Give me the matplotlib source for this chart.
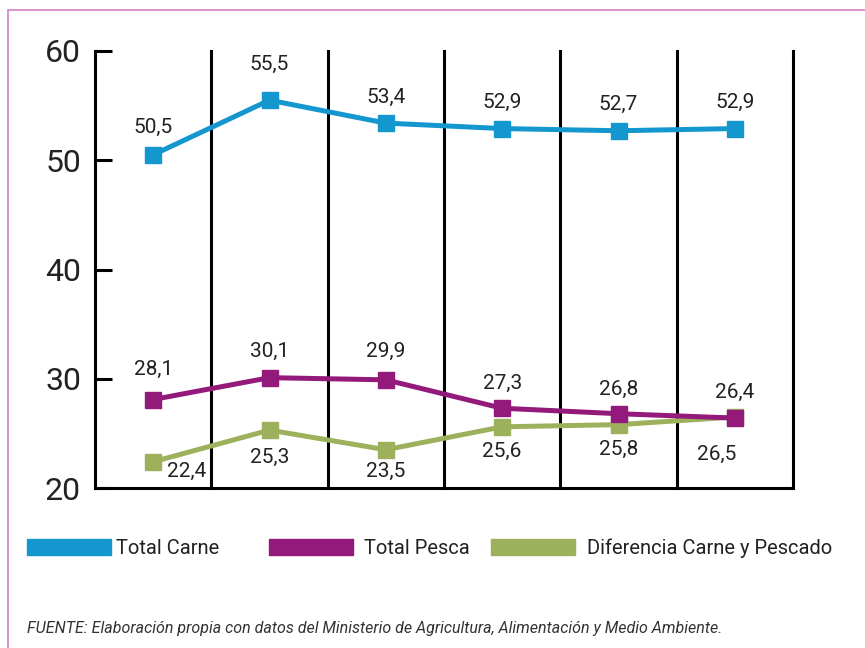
import numpy as np
import matplotlib.pyplot as plt
from matplotlib.patches import Rectangle

# data
years = ["1", "2", "3", "4", "5", "6"]
carne = [50.5, 55.5, 53.4, 52.9, 52.7, 52.9]
pesca = [28.1, 30.1, 29.9, 27.3, 26.8, 26.4]
diferencia = [22.4, 25.3, 23.5, 25.6, 25.8, 26.5]
y_ticks = [20, 30, 40, 50, 60]
series_names = ["Total Carne", "Total Pesca", "Diferencia Carne y Pescado"]
fuente = ("FUENTE: Elaboración propia con datos del Ministerio de Agricultura, "
          "Alimentación y Medio Ambiente.")

c_carne = "#1496cf"
c_pesca = "#931a7b"
c_dif = "#9db15d"

plt.rcParams['font.family'] = ['Roboto', 'DejaVu Sans']

W, H = 865, 648
fig = plt.figure(figsize=(W / 100, H / 100), dpi=100)
ax = fig.add_axes([95 / W, 1 - 488 / H, 698 / W, 437 / H])

x = np.arange(len(years))

ax.plot(x, carne, color=c_carne, lw=3.6, marker='s', ms=12.2, zorder=3)
ax.plot(x, pesca, color=c_pesca, lw=3.6, marker='s', ms=12.2, zorder=4)
ax.plot(x, diferencia, color=c_dif, lw=3.6, marker='s', ms=12.2, zorder=3)

# value labels (offsets in pixels)
carne_off = [(0, 27), (0, 36), (0, 26), (0, 26), (0, 26), (0, 26)]
pesca_off = [(0, 30), (0, 26), (0, 28), (0, 25), (0, 24), (0, 26)]
dif_off = [(33, -10), (0, -27), (0, -22), (0, -25), (0, -25), (-18, -37)]
for vals, offs in [(carne, carne_off), (pesca, pesca_off), (diferencia, dif_off)]:
    for i, v in enumerate(vals):
        ax.annotate(f"{v:.1f}".replace(".", ","), (x[i], v), xytext=offs[i],
                    textcoords='offset pixels', ha='center', va='center',
                    fontsize=15, color='#222222', zorder=5)

# column separators
for xv in x + 0.5:
    ax.axvline(xv, color='black', lw=2.2, zorder=1, clip_on=False)

ax.set_xlim(-0.5, len(years) - 0.5)
ax.set_ylim(20, 60)
ax.set_yticks(y_ticks)
ax.set_xticks([])
ax.tick_params(axis='y', direction='in', length=12.5, width=2.2, pad=10,
               labelsize=23, labelcolor='#222222')
ax.spines['top'].set_visible(False)
ax.spines['right'].set_visible(False)
ax.spines['left'].set_linewidth(2.2)
ax.spines['bottom'].set_linewidth(2.2)

# legend drawn by hand
leg_x = [27, 269, 491]
leg_text_x = [116, 364, 587]
for px, tx, name, col in zip(leg_x, leg_text_x, series_names,
                             [c_carne, c_pesca, c_dif]):
    fig.patches.append(Rectangle((px / W, 1 - 555 / H), 84 / W, 16 / H,
                                 transform=fig.transFigure, color=col))
    fig.text(tx / W, 1 - 548 / H, name, fontsize=14.5, va='center',
             ha='left', color='#222222')

fig.text(27 / W, 1 - 629 / H, fuente, fontsize=11.5, style='italic',
         va='center', ha='left', color='#333333')

# pink frame
fig.patches.append(Rectangle((8 / W, -0.1), 1.2, 1.1 - 10 / H,
                             transform=fig.transFigure, fill=False,
                             edgecolor='#d27fc0', lw=1.2))

fig.savefig("out.png", dpi=100)
